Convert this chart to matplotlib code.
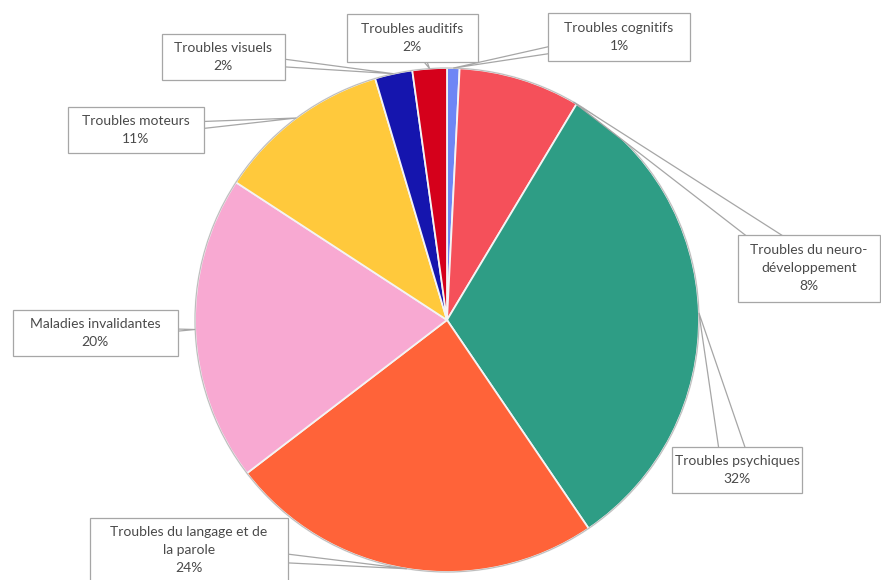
import matplotlib
matplotlib.use("Agg")
import matplotlib.pyplot as plt
import numpy as np
from matplotlib.patches import Polygon, Rectangle, Circle

plt.rcParams['font.family'] = ['Lato', 'DejaVu Sans']

# données (ordre horaire depuis midi), en %
labels = ["Troubles cognitifs", "Troubles du neuro-\ndéveloppement", "Troubles psychiques",
          "Troubles du langage et de\nla parole", "Maladies invalidantes", "Troubles moteurs",
          "Troubles visuels", "Troubles auditifs"]
values = [0.8, 7.8, 31.9, 24.1, 19.6, 11.2, 2.4, 2.2]
colors = ["#6E86F5", "#F5505A", "#2E9D85", "#FF6339", "#F8A9D2", "#FFC93C", "#1515AE", "#D5001B"]

# étiquettes : centre x, centre y (pixels depuis le haut), largeur, hauteur
boxes = [(619, 37, 142, 48), (809, 268, 142, 67), (737, 470, 130, 46),
         (189, 550, 198, 64), (95, 333, 165, 46), (136, 130, 136, 46),
         (223, 57, 123, 46), (412, 38, 131, 48)]
anchor_frac = [0.5, 0.97, 0.5, 0.5, 0.5, 0.5, 0.5, 0.5]
base_w = [12, 26, 30, 16, 12, 12, 12, 12]

W, H = 881, 580
cx, cy, R = 447, 260, 252

fig = plt.figure(figsize=(W / 100, H / 100), dpi=100)
ax = fig.add_axes([0, 0, 1, 1])

wedges, _ = ax.pie(values, colors=colors, startangle=90, counterclock=False,
                   center=(cx, cy), radius=R, frame=True,
                   wedgeprops=dict(edgecolor='#F4F4F4', linewidth=1.3))
ax.set_xlim(0, W)
ax.set_ylim(0, H)
ax.set_aspect('equal')
ax.axis('off')
ax.add_patch(Circle((cx, cy), R, fill=False, edgecolor='#BDBDBD', linewidth=0.8, zorder=3))

total = sum(values)
start = 0.0
for i, v in enumerate(values):
    a = start + v / total * 360 * anchor_frac[i]
    start += v / total * 360
    ang = np.deg2rad(90 - a)
    px, py = cx + R * np.cos(ang), cy + R * np.sin(ang)
    bx, by, bw, bh = boxes[i]
    by = H - by
    d = np.array([px - bx, py - by])
    d = d / np.linalg.norm(d)
    n = np.array([-d[1], d[0]]) * base_w[i] / 2
    tri = Polygon([(bx + n[0], by + n[1]), (px, py), (bx - n[0], by - n[1])],
                  closed=True, facecolor='white', edgecolor='#A6A6A6', linewidth=0.9, zorder=4)
    ax.add_patch(tri)
    ax.add_patch(Rectangle((bx - bw / 2, by - bh / 2), bw, bh, facecolor='white',
                           edgecolor='#A6A6A6', linewidth=0.9, zorder=5))
    ax.text(bx, by, f"{labels[i]}\n{v:.0f}%", ha='center', va='center', fontsize=10,
            color='#4A4A4A', linespacing=1.6, zorder=6)

fig.savefig("out.png", dpi=100)
